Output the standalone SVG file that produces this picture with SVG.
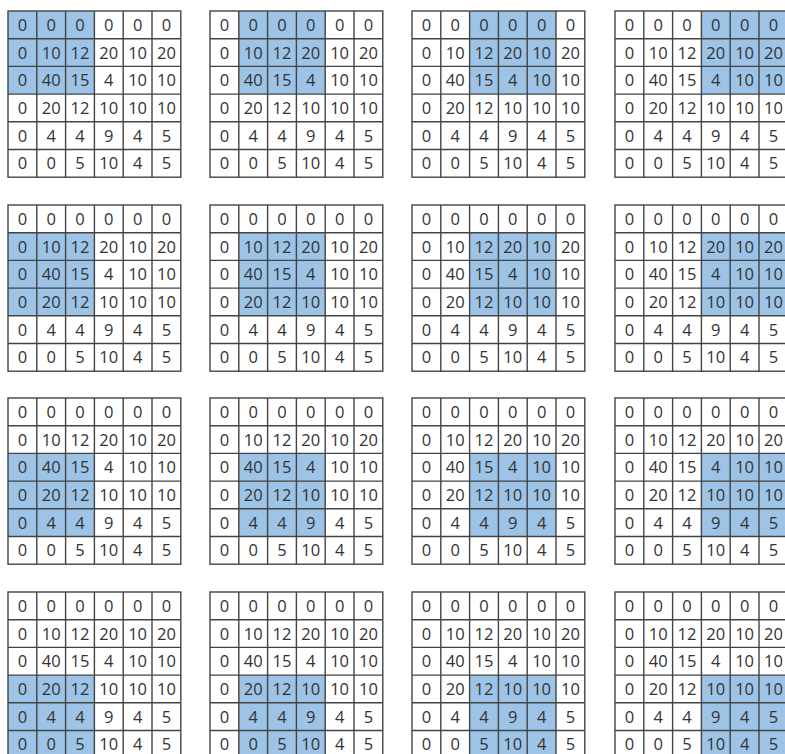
<svg xmlns="http://www.w3.org/2000/svg" xmlns:xlink="http://www.w3.org/1999/xlink" width="785" height="754" viewBox="0 0 785 754">
<style>
.bg{fill:#ffffff}
.hl{fill:#9dc3e6}
.ln{stroke:#444444;stroke-width:1.4;fill:none}
.t{font-family:"Open Sans","Liberation Sans",sans-serif;font-size:16.5px;fill:#333333;text-anchor:middle}
</style>
<defs>
<g id="grid">
<rect class="ln" x="0" y="0" width="172.8" height="166.2"/>
<path class="ln" d="M28.8 0V166.2M57.6 0V166.2M86.4 0V166.2M115.2 0V166.2M144 0V166.2M0 27.7H172.8M0 55.4H172.8M0 83.1H172.8M0 110.8H172.8M0 138.5H172.8"/>
<g class="t">
<text x="14.4" y="19.8">0</text><text x="43.2" y="19.8">0</text><text x="72" y="19.8">0</text><text x="100.8" y="19.8">0</text><text x="129.6" y="19.8">0</text><text x="158.4" y="19.8">0</text>
<text x="14.4" y="47.5">0</text><text x="43.2" y="47.5">10</text><text x="72" y="47.5">12</text><text x="100.8" y="47.5">20</text><text x="129.6" y="47.5">10</text><text x="158.4" y="47.5">20</text>
<text x="14.4" y="75.2">0</text><text x="43.2" y="75.2">40</text><text x="72" y="75.2">15</text><text x="100.8" y="75.2">4</text><text x="129.6" y="75.2">10</text><text x="158.4" y="75.2">10</text>
<text x="14.4" y="102.9">0</text><text x="43.2" y="102.9">20</text><text x="72" y="102.9">12</text><text x="100.8" y="102.9">10</text><text x="129.6" y="102.9">10</text><text x="158.4" y="102.9">10</text>
<text x="14.4" y="130.6">0</text><text x="43.2" y="130.6">4</text><text x="72" y="130.6">4</text><text x="100.8" y="130.6">9</text><text x="129.6" y="130.6">4</text><text x="158.4" y="130.6">5</text>
<text x="14.4" y="158.3">0</text><text x="43.2" y="158.3">0</text><text x="72" y="158.3">5</text><text x="100.8" y="158.3">10</text><text x="129.6" y="158.3">4</text><text x="158.4" y="158.3">5</text>
</g>
</g>
</defs>
<rect class="bg" x="0" y="0" width="785" height="754"/>
<g id="grid-1-1" transform="translate(8,11)"><rect class="hl" x="0" y="0" width="86.4" height="83.1"/><use xlink:href="#grid" href="#grid"/></g>
<g id="grid-1-2" transform="translate(210,11)"><rect class="hl" x="28.8" y="0" width="86.4" height="83.1"/><use xlink:href="#grid" href="#grid"/></g>
<g id="grid-1-3" transform="translate(412,11)"><rect class="hl" x="57.6" y="0" width="86.4" height="83.1"/><use xlink:href="#grid" href="#grid"/></g>
<g id="grid-1-4" transform="translate(615,11)"><rect class="hl" x="86.4" y="0" width="86.4" height="83.1"/><use xlink:href="#grid" href="#grid"/></g>
<g id="grid-2-1" transform="translate(8,205)"><rect class="hl" x="0" y="27.7" width="86.4" height="83.1"/><use xlink:href="#grid" href="#grid"/></g>
<g id="grid-2-2" transform="translate(210,205)"><rect class="hl" x="28.8" y="27.7" width="86.4" height="83.1"/><use xlink:href="#grid" href="#grid"/></g>
<g id="grid-2-3" transform="translate(412,205)"><rect class="hl" x="57.6" y="27.7" width="86.4" height="83.1"/><use xlink:href="#grid" href="#grid"/></g>
<g id="grid-2-4" transform="translate(615,205)"><rect class="hl" x="86.4" y="27.7" width="86.4" height="83.1"/><use xlink:href="#grid" href="#grid"/></g>
<g id="grid-3-1" transform="translate(8,398)"><rect class="hl" x="0" y="55.4" width="86.4" height="83.1"/><use xlink:href="#grid" href="#grid"/></g>
<g id="grid-3-2" transform="translate(210,398)"><rect class="hl" x="28.8" y="55.4" width="86.4" height="83.1"/><use xlink:href="#grid" href="#grid"/></g>
<g id="grid-3-3" transform="translate(412,398)"><rect class="hl" x="57.6" y="55.4" width="86.4" height="83.1"/><use xlink:href="#grid" href="#grid"/></g>
<g id="grid-3-4" transform="translate(615,398)"><rect class="hl" x="86.4" y="55.4" width="86.4" height="83.1"/><use xlink:href="#grid" href="#grid"/></g>
<g id="grid-4-1" transform="translate(8,592)"><rect class="hl" x="0" y="83.1" width="86.4" height="83.1"/><use xlink:href="#grid" href="#grid"/></g>
<g id="grid-4-2" transform="translate(210,592)"><rect class="hl" x="28.8" y="83.1" width="86.4" height="83.1"/><use xlink:href="#grid" href="#grid"/></g>
<g id="grid-4-3" transform="translate(412,592)"><rect class="hl" x="57.6" y="83.1" width="86.4" height="83.1"/><use xlink:href="#grid" href="#grid"/></g>
<g id="grid-4-4" transform="translate(615,592)"><rect class="hl" x="86.4" y="83.1" width="86.4" height="83.1"/><use xlink:href="#grid" href="#grid"/></g>
<g id="connectors"/>
</svg>
